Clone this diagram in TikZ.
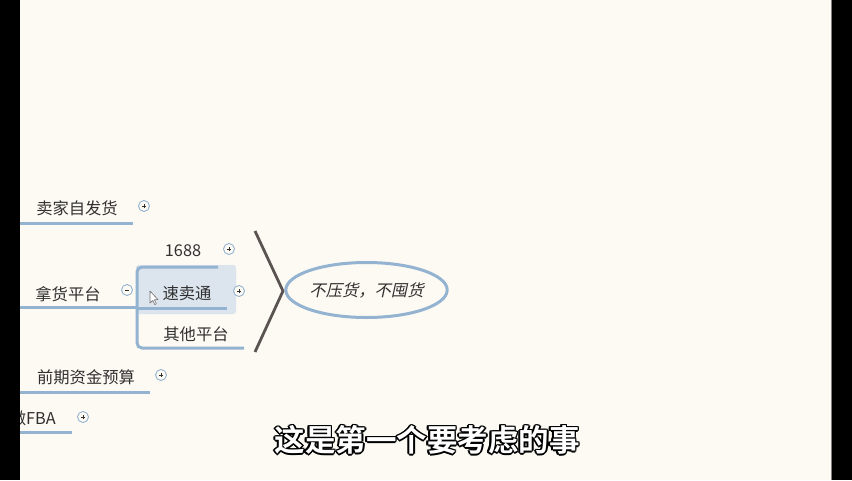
\documentclass[tikz,border=0pt]{standalone}
\usepackage{fontspec}
\usetikzlibrary{shapes.geometric}
\newfontfamily\cjk{Noto Sans CJK SC}
\newfontfamily\cjkit[FakeSlant=0.22]{Noto Sans CJK SC}
\newfontfamily\cjkbf{Noto Sans CJK SC Bold}
\definecolor{bg}{HTML}{FDFAF3}
\definecolor{ln}{HTML}{93B3D1}
\definecolor{tx}{HTML}{303030}
\definecolor{br}{HTML}{5B5352}
\definecolor{sel}{HTML}{DCE5EE}
\tikzset{
  topic/.style={font=\cjk\fontsize{16.3}{19}\selectfont, text=tx, inner sep=0pt},
  uline/.style={draw=ln, line width=3pt},
  expbtn/.style={circle, draw=ln, line width=0.9pt, fill=bg, minimum size=11pt, inner sep=0pt},
  subfont/.style={font=\cjkbf\fontsize{30.5}{34}\selectfont, inner sep=0pt},
}
\newcommand{\plusbtn}[2]{%
  \node[expbtn] (#1) at #2 {};
  \draw[tx, line width=0.7pt] ([xshift=-2.2pt]#1.center) -- ([xshift=2.2pt]#1.center)
    ([yshift=-2.2pt]#1.center) -- ([yshift=2.2pt]#1.center);}
\newcommand{\minusbtn}[2]{%
  \node[expbtn] (#1) at #2 {};
  \draw[tx, line width=0.7pt] ([xshift=-2.2pt]#1.center) -- ([xshift=2.2pt]#1.center);}
\begin{document}
\begin{tikzpicture}[x=1pt,y=-1pt]
\fill[bg] (0,0) rectangle (852,480);
\useasboundingbox (0,0) rectangle (852,480);

% selection box
\draw[fill=sel, draw=ln!60, dotted, rounded corners=3pt] (136,265) rectangle (236,314);

% topics
\node[topic] (t1) at (77,208) {卖家自发货};
\node[topic] (t2) at (68,294) {拿货平台};
\node[topic] (t3) at (86,377) {前期资金预算};
\node[topic, anchor=east] (t4) at (56,418) {做FBA};
\node[topic] (s1) at (183,251) {1688};
\node[topic] (s2) at (187,293) {速卖通};
\node[topic] (s3) at (196,334) {其他平台};

% underlines
\coordinate (u1a) at (20,223); \coordinate (u1b) at (133,223);
\coordinate (u2a) at (20,307); \coordinate (u2b) at (137,307);
\coordinate (u3a) at (20,392); \coordinate (u3b) at (150,392);
\coordinate (u4a) at (20,432); \coordinate (u4b) at (72,432);
\coordinate (v1) at (218,267);
\coordinate (v2a) at (137,308); \coordinate (v2b) at (227,308);
\coordinate (v3) at (244,348);
\draw[uline] (u1a) -- (u1b);
\draw[uline] (u2a) -- (u2b);
\draw[uline] (u3a) -- (u3b);
\draw[uline] (u4a) -- (u4b);
\draw[uline] (v2a) -- (v2b);
\draw[uline, rounded corners=5pt] (v1) -- (137,267) -- (137,348) -- (v3);

% buttons
\plusbtn{p1}{(144,206)}
\plusbtn{p2}{(229,249)}
\plusbtn{p3}{(239,291)}
\plusbtn{p4}{(161,375)}
\plusbtn{p5}{(83,417)}
\minusbtn{m1}{(127,290)}

% cursor
\draw[fill=white, draw=tx!70, line width=0.6pt, line join=round]
  (150,291) -- (150,303) -- (152.8,300.4) -- (154.8,304.6) -- (156.4,303.8) -- (154.4,299.8) -- (158,299.6) -- cycle;

% bracket
\coordinate (b1) at (255,231); \coordinate (b2) at (283,291); \coordinate (b3) at (255,352);
\draw[br, line width=2.8pt, line join=miter] (b1) -- (b2) -- (b3);

% summary ellipse
\node[ellipse, draw=ln, line width=3pt, minimum width=152pt, minimum height=55pt, inner sep=0pt,
  font=\cjkit\fontsize{16.3}{19}\selectfont, text=tx] (sum) at (366.5,290) {不压货，不囤货};

% black side bars
\fill[black] (0,0) rectangle (20,480);
\fill[black] (832,0) rectangle (852,480);
\draw[gray, line width=0.8pt] (831.5,0) -- (831.5,480);

% subtitle
\coordinate (subc) at (427,440);
\foreach \dx/\dy in {-1.6/0,1.6/0,0/-1.6,0/1.6,-1.2/-1.2,1.2/1.2,-1.2/1.2,1.2/-1.2}{
  \node[subfont, text=black] at ([xshift=\dx pt,yshift=\dy pt]subc) {这是第一个要考虑的事};}
\node[subfont, text=white] (sub) at (subc) {这是第一个要考虑的事};
\end{tikzpicture}
\end{document}
